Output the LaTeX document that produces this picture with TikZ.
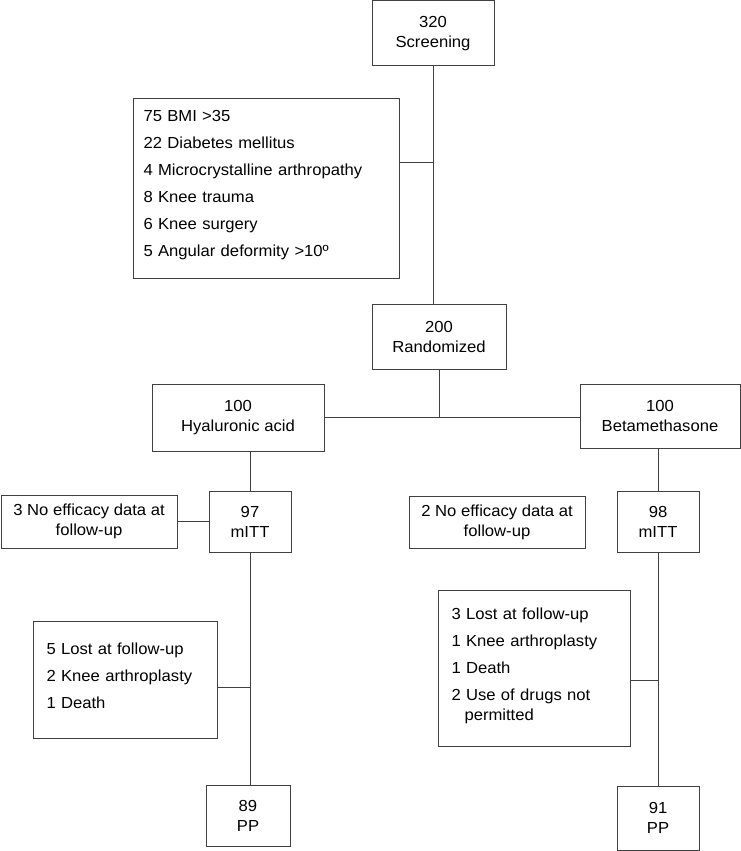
\documentclass[tikz,border=0pt]{standalone}
\usepackage{fontspec}
\setmainfont{Liberation Sans}[FakeStretch=1.04]

\begin{document}
\begin{tikzpicture}[
        x=1pt, y=-1pt,
        every node/.style={draw=black!75, line width=1pt, rectangle, align=center, inner sep=0pt, font=\fontsize{16}{20}\selectfont},
        stage/.style 2 args={minimum width=#1, minimum height=#2},
        reasons/.style={align=left, anchor=north west, text width=#1},
        link/.style={draw=black!75, line width=1pt}
    ]
        \useasboundingbox (0,0) rectangle (741,851);

        % Main flow
        \node[stage={122}{65}] (screen) at (433,33.5) {320\\Screening};
        \node[stage={134}{65}] (rand) at (439,336.5) {200\\Randomized};
        \node[stage={172}{67}] (ha) at (238,417.5) {100\\Hyaluronic acid};
        \node[stage={160}{64}] (beta) at (660,416) {100\\Betamethasone};
        \node[stage={82}{61}] (mitta) at (250,521.5) {97\\mITT};
        \node[stage={82}{61}] (mittb) at (658,521.5) {98\\mITT};
        \node[stage={84}{61}] (ppa) at (248,815.5) {89\\PP};
        \node[stage={82}{64}] (ppb) at (658,818) {91\\PP};

        % Excluded
        \node[stage={176}{53}] (noa) at (89,521.5) {3 No efficacy data at\\follow-up};
        \node[stage={176}{52}] (nob) at (497,522) {2 No efficacy data at\\follow-up};
        \node[reasons=246pt, inner xsep=10pt, inner ysep=11.5pt] (excl) at (133,98)
            {75 BMI >35\\[7pt]22 Diabetes mellitus\\[7pt]4 Microcrystalline arthropathy\\[7pt]8 Knee trauma\\[7pt]6 Knee surgery\\[7pt]5 Angular deformity >10º\rule[-10.5pt]{0pt}{1pt}};
        \node[reasons=158pt, inner xsep=13pt, inner ysep=21pt] (exca) at (33,621)
            {5 Lost at follow-up\\[7pt]2 Knee arthroplasty\\[7pt]1 Death\rule[-9.5pt]{0pt}{1pt}};
        \node[reasons=166pt, inner xsep=13pt, inner ysep=17pt] (excb) at (438,590)
            {3 Lost at follow-up\\[7pt]1 Knee arthroplasty\\[7pt]1 Death\\[7pt]2 Use of drugs not\\\hspace*{13pt}permitted\rule[-9.5pt]{0pt}{1pt}};

        % Connectors
        \draw[link] (screen.south) -- (screen.south |- rand.north);
        \draw[link] ([yshift=26pt]excl.east) -- ([yshift=26pt]excl.east -| screen.south);
        \draw[link] (rand.south) -- (rand.south |- ha.east);
        \draw[link] (ha.east) -- (ha.east -| beta.west);

        \draw[link] (mitta.north) -- (mitta.north |- ha.south);
        \draw[link] (noa) -- (mitta);
        \draw[link] (mitta.south) -- (mitta.south |- ppa.north);
        \draw[link] ([yshift=-7.5pt]exca.east) -- ([yshift=-7.5pt]exca.east -| mitta.south);

        \draw[link] (mittb.north) -- (mittb.north |- beta.south);
        \draw[link] (mittb) -- (ppb);
        \draw[link] ([yshift=-12pt]excb.east) -- ([yshift=-12pt]excb.east -| mittb.south);
    \end{tikzpicture}
\end{document}
